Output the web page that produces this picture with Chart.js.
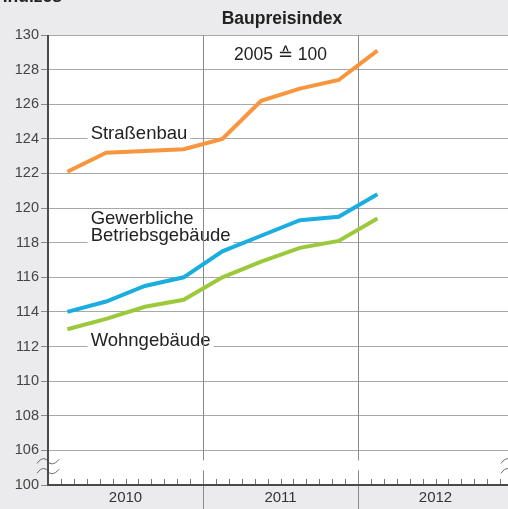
<!DOCTYPE html>
<html>
<head>
<meta charset="utf-8">
<script src="https://cdn.jsdelivr.net/npm/chart.js@4/dist/chart.umd.min.js"></script>
<style>
  html, body { margin: 0; padding: 0; background: #ebebed; }
  #wrap { width: 508px; height: 509px; position: relative; }
</style>
</head>
<body>
<div id="wrap"><canvas id="c" width="508" height="509"></canvas></div>
<script>
// Quarterly construction price index, 2005 = 100
const quarters = ['2010 Q1','2010 Q2','2010 Q3','2010 Q4','2011 Q1','2011 Q2','2011 Q3','2011 Q4','2012 Q1'];
const strassenbau = [122.1, 123.2, 123.3, 123.4, 124.0, 126.2, 126.9, 127.4, 129.1];
const gewerblich  = [114.0, 114.6, 115.5, 116.0, 117.5, 118.4, 119.3, 119.5, 120.8];
const wohngebaeude = [113.0, 113.6, 114.3, 114.7, 116.0, 116.9, 117.7, 118.1, 119.4];
const years = ['2010', '2011', '2012'];
const yTickValues = [104, 106, 108, 110, 112, 114, 116, 118, 120, 122, 124, 126, 128, 130];
// the lowest tick stands for 100 below the axis break
const yTickLabels = {104: '100'};

const FONT = '"Liberation Sans", Arial, Helvetica, sans-serif';

// month position of each quarter (middle of the quarter)
const toPoints = arr => arr.map((v, i) => ({x: i * 3 + 1.5, y: v}));

const decor = {
  id: 'decor',
  beforeDraw(chart) {
    const {ctx, chartArea: a} = chart;
    ctx.save();
    ctx.fillStyle = '#ffffff';
    ctx.fillRect(a.left, a.top, a.right - a.left, a.bottom - a.top);
    ctx.restore();
  },
  beforeDatasetsDraw(chart) {
    const {ctx, chartArea: a, scales: {x, y}} = chart;
    ctx.save();
    // series labels on white boxes
    const label = (lines, mx, vy) => {
      const px = x.getPixelForValue(mx);
      const py = y.getPixelForValue(vy);
      ctx.font = '18.5px ' + FONT;
      ctx.textBaseline = 'middle';
      ctx.textAlign = 'left';
      const lh = 17;
      const w = Math.max(...lines.map(t => ctx.measureText(t).width)) + 6;
      ctx.fillStyle = '#ffffff';
      ctx.fillRect(px - 3, py - 10, w, lh * (lines.length - 1) + 20);
      ctx.fillStyle = '#222';
      lines.forEach((t, i) => ctx.fillText(t, px, py + i * lh));
    };
    label(['Straßenbau'], 3.3, 124.3);
    label(['Gewerbliche', 'Betriebsgebäude'], 3.3, 119.35);
    label(['Wohngebäude'], 3.3, 112.35);
    // base year note
    ctx.font = '17.5px ' + FONT;
    ctx.textAlign = 'center';
    ctx.textBaseline = 'middle';
    ctx.fillStyle = '#222';
    ctx.fillText('2005 ≙ 100', x.getPixelForValue(18.0), y.getPixelForValue(128.85));

    // year separators, broken at the axis break
    const gapTop = y.getPixelForValue(105.42);
    const gapBot = y.getPixelForValue(104.85);
    ctx.strokeStyle = '#8a8a8a';
    ctx.lineWidth = 1;
    [12, 24].forEach(m => {
      const px = Math.round(x.getPixelForValue(m)) + 0.5;
      ctx.beginPath();
      ctx.moveTo(px, a.top); ctx.lineTo(px, gapTop);
      ctx.moveTo(px, gapBot); ctx.lineTo(px, chart.height);
      ctx.stroke();
    });
    // monthly ticks
    ctx.strokeStyle = '#777';
    for (let m = 1; m < 36; m++) {
      if (m % 12 === 0) continue;
      const px = Math.round(x.getPixelForValue(m)) + 0.5;
      if (px > a.right) break;
      ctx.beginPath();
      ctx.moveTo(px, a.bottom); ctx.lineTo(px, a.bottom - 6);
      ctx.stroke();
    }
    // axis-break marks
    ctx.strokeStyle = '#666';
    ctx.lineWidth = 1;
    const wave = (cx, cy) => {
      ctx.beginPath();
      ctx.moveTo(cx - 11, cy + 2);
      ctx.bezierCurveTo(cx - 6, cy - 5, cx - 2, cy - 3, cx, cy);
      ctx.bezierCurveTo(cx + 2, cy + 3, cx + 6, cy + 4, cx + 11, cy - 2);
      ctx.stroke();
    };
    [gapTop + 1, gapBot + 1].forEach(py => {
      wave(a.left, py);
      wave(a.right + 4, py);
    });
    ctx.restore();
  },
  afterDraw(chart) {
    const {ctx, chartArea: a} = chart;
    ctx.save();
    ctx.fillStyle = '#222';
    ctx.font = 'bold 17.5px ' + FONT;
    ctx.textAlign = 'center';
    ctx.textBaseline = 'alphabetic';
    ctx.fillText('Baupreisindex', 282, 24);
    ctx.textAlign = 'right';
    ctx.fillText('Indizes', 62, 2);
    // axes
    ctx.strokeStyle = '#4a4a4a';
    ctx.lineWidth = 2;
    ctx.beginPath();
    ctx.moveTo(a.left, a.top);
    ctx.lineTo(a.left, a.bottom);
    ctx.lineTo(a.right, a.bottom);
    ctx.stroke();
    ctx.restore();
  }
};

const ds = (label, data, color) => ({
  label, data: toPoints(data), borderColor: color, backgroundColor: color,
  borderWidth: 4, pointRadius: 0, tension: 0, fill: false
});

new Chart(document.getElementById('c'), {
  type: 'line',
  data: {
    datasets: [
      ds('Straßenbau', strassenbau, '#f7963f'),
      ds('Gewerbliche Betriebsgebäude', gewerblich, '#1aaee0'),
      ds('Wohngebäude', wohngebaeude, '#9cc93c')
    ]
  },
  options: {
    responsive: false,
    animation: false,
    layout: {padding: {top: 35, left: 0, right: 0, bottom: 0}},
    plugins: {legend: {display: false}, tooltip: {enabled: false}, title: {display: false}},
    scales: {
      x: {
        type: 'linear', min: 0, max: 35.61,
        afterBuildTicks: s => { s.ticks = [6, 18, 30].map(v => ({value: v})); },
        afterFit: s => { s.height = 24; },
        grid: {display: false, drawTicks: false},
        border: {display: false},
        ticks: {
          callback: v => years[Math.floor(v / 12)],
          font: {family: FONT, size: 15}, color: '#333', padding: 4, maxRotation: 0
        }
      },
      y: {
        type: 'linear', min: 104, max: 130,
        afterBuildTicks: s => { s.ticks = yTickValues.map(v => ({value: v})); },
        afterFit: s => { s.width = 48; },
        grid: {color: '#a8a8a8', lineWidth: 1, tickLength: 7, tickColor: '#888'},
        border: {display: false},
        ticks: {
          callback: v => yTickLabels[v] || String(v),
          font: {family: FONT, size: 14.5}, color: '#444', padding: 2
        }
      }
    }
  },
  plugins: [decor]
});
</script>
</body>
</html>
